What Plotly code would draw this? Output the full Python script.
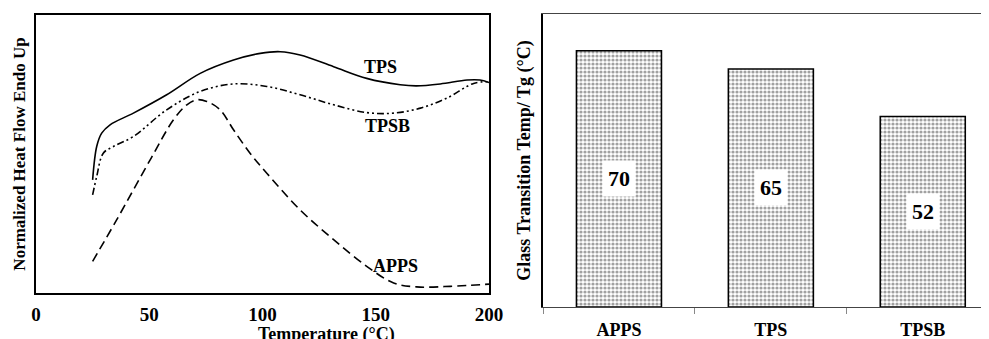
import plotly.graph_objects as go

# ---- Left panel: DSC curves (normalized heat flow, arbitrary units) ----
tps_t = [25, 26.8, 29, 32.7, 43, 57.7, 72.5, 87.2, 99, 107.8, 116.6, 131.4, 146, 160.8, 168, 178.5, 190.3, 196, 200]
tps_v = [40.7, 52.7, 57.5, 60.5, 64.7, 71.3, 79, 83.8, 86.2, 86.8, 85.6, 81.4, 77.2, 74.9, 74.5, 75.2, 76.6, 76.6, 75.7]

tpsb_t = [25, 26.8, 29.7, 34.2, 43, 57.7, 72.5, 87.2, 101.9, 116.6, 131.4, 146, 157.9, 169.7, 181.4, 193.2, 200]
tpsb_v = [35.3, 41.9, 50.3, 52.7, 56.3, 65.9, 72.5, 75.2, 74.3, 71.3, 67.7, 64.9, 64.7, 66.5, 70.1, 75.4, 76]

apps_t = [25, 35.6, 50.4, 60.7, 66.6, 71, 75.4, 81.3, 87.2, 94.5, 101.9, 116.6, 131.4, 146, 157.9, 168, 182.9, 200]
apps_v = [11.4, 26.3, 47.9, 62.3, 67.7, 69.5, 68.9, 65.9, 58.7, 50.3, 43.1, 29.9, 19.2, 9.6, 3.6, 2.2, 2.4, 3.2]

curve_labels = ["TPS", "TPSB", "APPS"]
label_t = [152, 155, 158.6]
label_v = [81.4, 59.9, 9.6]

x_ticks = [0, 50, 100, 150, 200]

# ---- Right panel: glass transition temperatures ----
samples = ["APPS", "TPS", "TPSB"]
tg_values = [70, 65, 52]

FONT = "Liberation Serif"
W, H = 981, 331  # page body has an 8px margin; figure fills the rest of the window

fig = go.Figure()

fig.add_trace(go.Scatter(x=tps_t, y=tps_v, mode="lines", line=dict(color="black", width=1.6, shape="spline"),
                         xaxis="x", yaxis="y", showlegend=False))
fig.add_trace(go.Scatter(x=tpsb_t, y=tpsb_v, mode="lines",
                         line=dict(color="black", width=1.6, shape="spline", dash="7px,3px,2px,3px,2px,3px"),
                         xaxis="x", yaxis="y", showlegend=False))
fig.add_trace(go.Scatter(x=apps_t, y=apps_v, mode="lines",
                         line=dict(color="black", width=1.6, shape="spline", dash="9px,5px"),
                         xaxis="x", yaxis="y", showlegend=False))

for name, t, v in zip(curve_labels, label_t, label_v):
    fig.add_annotation(x=t, y=v, text="<b>%s</b>" % name, showarrow=False, xref="x", yref="y",
                       font=dict(family=FONT, size=18, color="black"))

fig.add_trace(go.Bar(x=samples, y=tg_values, width=0.56, xaxis="x2", yaxis="y2", showlegend=False,
                     marker=dict(color="white", line=dict(color="black", width=1.5),
                                 pattern=dict(shape=".", fgcolor="#444444", bgcolor="white",
                                              size=4, solidity=0.5))))

for s, v in zip(samples, tg_values):
    fig.add_annotation(x=s, y=v / 2, text="<b>%d</b>" % v, showarrow=False, xref="x2", yref="y2",
                       bgcolor="white", borderpad=5,
                       font=dict(family=FONT, size=22, color="black"))

# x-axis title of the left panel (sits low, partly cut by the bottom edge as in the original)
fig.add_annotation(x=248 / W, y=1 - 314 / H, xref="paper", yref="paper",
                   text="<b>Temperature (°C)</b>", showarrow=False, yanchor="top",
                   font=dict(family=FONT, size=18, color="black"))

fig.update_layout(
    width=W, height=H,
    margin=dict(l=0, r=0, t=0, b=0),
    plot_bgcolor="white", paper_bgcolor="white",
    font=dict(family=FONT, color="black"),
    xaxis=dict(domain=[28 / W, 481 / W], range=[0, 200], tickvals=x_ticks, automargin=False,
               showline=True, linecolor="black", linewidth=1.5, mirror=True,
               showgrid=False, zeroline=False, ticks="", ticklabelstandoff=3,
               tickfont=dict(family=FONT, size=19, color="black", weight="bold")),
    yaxis=dict(domain=[46 / H, 324 / H], range=[0, 100], automargin=False,
               showline=True, linecolor="black", linewidth=1.5, mirror=True,
               showgrid=False, zeroline=False, showticklabels=False, ticks="",
               title=dict(text="<b>Normalized Heat Flow Endo Up</b>", font=dict(family=FONT, size=17), standoff=4)),
    xaxis2=dict(domain=[535 / W, 1.0], range=[-0.5, 2.436], anchor="y2", automargin=False,
                showline=True, linecolor="#444444", linewidth=1.2, mirror=True,
                showgrid=False, zeroline=False, ticks="outside", tickson="boundaries",
                ticklen=6, tickcolor="#888888", tickwidth=1, ticklabelstandoff=6,
                tickfont=dict(family=FONT, size=18, color="black", weight="bold")),
    yaxis2=dict(domain=[32 / H, 325 / H], range=[0, 80], anchor="x2", automargin=False,
                showline=True, linecolor="black", linewidth=1.5, mirror=False,
                showgrid=False, zeroline=False, showticklabels=False, ticks="",
                title=dict(text="<b>Glass Transition Temp/ Tg (°C)</b>", font=dict(family=FONT, size=18), standoff=6)),
)

fig.write_html("out.html")
